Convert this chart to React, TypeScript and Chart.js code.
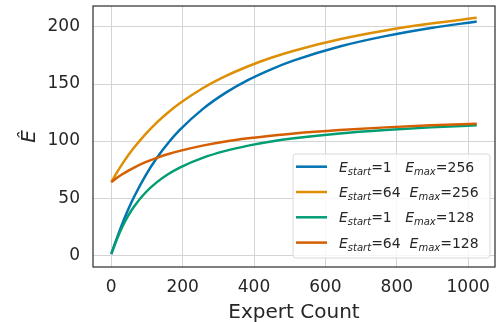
import React, { useEffect, useRef } from "react";
import { Chart, registerables } from "chart.js";

Chart.register(...registerables);

const expertCounts = [0, 16, 32, 48, 64, 96, 128, 160, 192, 256, 320, 384, 448, 512, 640, 768, 896, 1024];
const seriesS1M256 = [1, 15.1, 28.4, 40.4, 51.2, 69.8, 85.3, 98.5, 109.7, 128, 142.2, 153.6, 162.9, 170.7, 182.9, 192, 199.1, 204.8];
const seriesS64M256 = [64, 72.6, 80.4, 87.7, 94.3, 106.1, 116.4, 125.3, 133.1, 146.3, 156.9, 165.6, 173.0, 179.2, 189.2, 196.9, 203.0, 208.0];
const seriesS1M128 = [1, 14.2, 25.6, 34.9, 42.7, 54.9, 64, 71.1, 76.8, 85.3, 91.4, 96, 99.6, 102.4, 106.7, 109.7, 112, 113.8];
const seriesS64M128 = [64, 67.8, 71.1, 74.1, 76.8, 81.5, 85.3, 88.6, 91.4, 96, 99.6, 102.4, 104.7, 106.7, 109.7, 112, 113.8, 115.2];

const legendStart = ["1", "64", "1", "64"];
const legendMax = ["256", "256", "128", "128"];
const colors = ["#0173b2", "#de8f05", "#029e73", "#d55e00"];
const xTicks = [0, 200, 400, 600, 800, 1000];
const yTicks = [0, 50, 100, 150, 200];
const xTitle = "Expert Count";
const yTitle = "Ê";

const FONT = "'DejaVu Sans', sans-serif";

const decor = {
  id: "decor",
  afterDraw(chart: any) {
    const ctx = chart.ctx;
    const a = chart.chartArea;
    ctx.save();
    // axes frame
    ctx.strokeStyle = "#333333";
    ctx.lineWidth = 1.25;
    ctx.strokeRect(a.left, a.top, a.right - a.left, a.bottom - a.top);

    // axis titles
    ctx.fillStyle = "#262626";
    ctx.font = `20px ${FONT}`;
    ctx.textAlign = "center";
    ctx.textBaseline = "alphabetic";
    ctx.fillText(xTitle, (a.left + a.right) / 2, 318);
    ctx.save();
    ctx.translate(35, (a.top + a.bottom) / 2);
    ctx.rotate(-Math.PI / 2);
    ctx.font = `italic 20px ${FONT}`;
    ctx.fillText(yTitle, 0, 0);
    ctx.restore();

    // legend
    const bx = 293, by = 154, bw = 197, bh = 104, r = 3;
    ctx.beginPath();
    ctx.moveTo(bx + r, by);
    ctx.arcTo(bx + bw, by, bx + bw, by + bh, r);
    ctx.arcTo(bx + bw, by + bh, bx, by + bh, r);
    ctx.arcTo(bx, by + bh, bx, by, r);
    ctx.arcTo(bx, by, bx + bw, by, r);
    ctx.closePath();
    ctx.fillStyle = "rgba(255,255,255,0.8)";
    ctx.fill();
    ctx.strokeStyle = "#d9d9d9";
    ctx.lineWidth = 1;
    ctx.stroke();

    ctx.textAlign = "left";
    for (let i = 0; i < colors.length; i++) {
      const y = 166.7 + i * 25.3;
      ctx.strokeStyle = colors[i];
      ctx.lineWidth = 2.5;
      ctx.beginPath();
      ctx.moveTo(296, y);
      ctx.lineTo(327, y);
      ctx.stroke();

      ctx.fillStyle = "#262626";
      let x = 339;
      const base = y + 5;
      ctx.font = `italic 14px ${FONT}`;
      ctx.fillText("E", x, base);
      x += ctx.measureText("E").width;
      ctx.font = `italic 10px ${FONT}`;
      ctx.fillText("start", x, base + 3);
      x += ctx.measureText("start").width;
      ctx.font = `14px ${FONT}`;
      const s = "=" + legendStart[i] + (legendStart[i].length === 1 ? "   " : "  ");
      ctx.fillText(s, x, base);
      x += ctx.measureText(s).width;
      ctx.font = `italic 14px ${FONT}`;
      ctx.fillText("E", x, base);
      x += ctx.measureText("E").width;
      ctx.font = `italic 10px ${FONT}`;
      ctx.fillText("max", x, base + 3);
      x += ctx.measureText("max").width;
      ctx.font = `14px ${FONT}`;
      ctx.fillText("=" + legendMax[i], x, base);
    }
    ctx.restore();
  },
};

export default function App() {
  const ref = useRef<HTMLCanvasElement | null>(null);
  useEffect(() => {
    document.body.style.margin = "0";
    const series = [seriesS1M256, seriesS64M256, seriesS1M128, seriesS64M128];
    const chart = new Chart(ref.current as HTMLCanvasElement, {
      type: "line",
      data: {
        datasets: series.map((vals, i) => ({
          label: `E_start=${legendStart[i]} E_max=${legendMax[i]}`,
          data: expertCounts.map((x, j) => ({ x, y: vals[j] })),
          borderColor: colors[i],
          backgroundColor: colors[i],
          borderWidth: 2.5,
          pointRadius: 0,
          fill: false,
          cubicInterpolationMode: "monotone" as const,
          order: series.length - i,
        })),
      },
      options: {
        animation: false,
        responsive: false,
        devicePixelRatio: 1,
        layout: { padding: { top: 6, right: 1, left: 0, bottom: 0 } },
        plugins: { legend: { display: false }, tooltip: { enabled: false } },
        scales: {
          x: {
            type: "linear",
            min: -51.2,
            max: 1075.2,
            afterBuildTicks: (s: any) => {
              s.ticks = xTicks.map((v) => ({ value: v }));
            },
            afterFit: (s: any) => {
              s.height = 55;
              s.paddingLeft = 0;
              s.paddingRight = 0;
            },
            grid: { color: "#d4d4d4", lineWidth: 1, drawTicks: false },
            border: { display: false },
            ticks: {
              color: "#262626",
              font: { family: FONT, size: 17 },
              padding: 10,
              maxRotation: 0,
              callback: (v: any) => String(v),
            },
          },
          y: {
            type: "linear",
            min: -10.4,
            max: 218.4,
            afterBuildTicks: (s: any) => {
              s.ticks = yTicks.map((v) => ({ value: v }));
            },
            afterFit: (s: any) => {
              s.width = 93;
              s.paddingTop = 0;
              s.paddingBottom = 0;
            },
            grid: { color: "#d4d4d4", lineWidth: 1, drawTicks: false },
            border: { display: false },
            ticks: {
              color: "#262626",
              font: { family: FONT, size: 17 },
              padding: 13,
              callback: (v: any) => String(v),
            },
          },
        },
      },
      plugins: [decor],
    });
    return () => chart.destroy();
  }, []);
  return (
    <div style={{ position: "fixed", left: 0, top: 0, width: 496, height: 322, background: "#fff" }}>
      <canvas ref={ref} width={496} height={322} />
    </div>
  );
}
